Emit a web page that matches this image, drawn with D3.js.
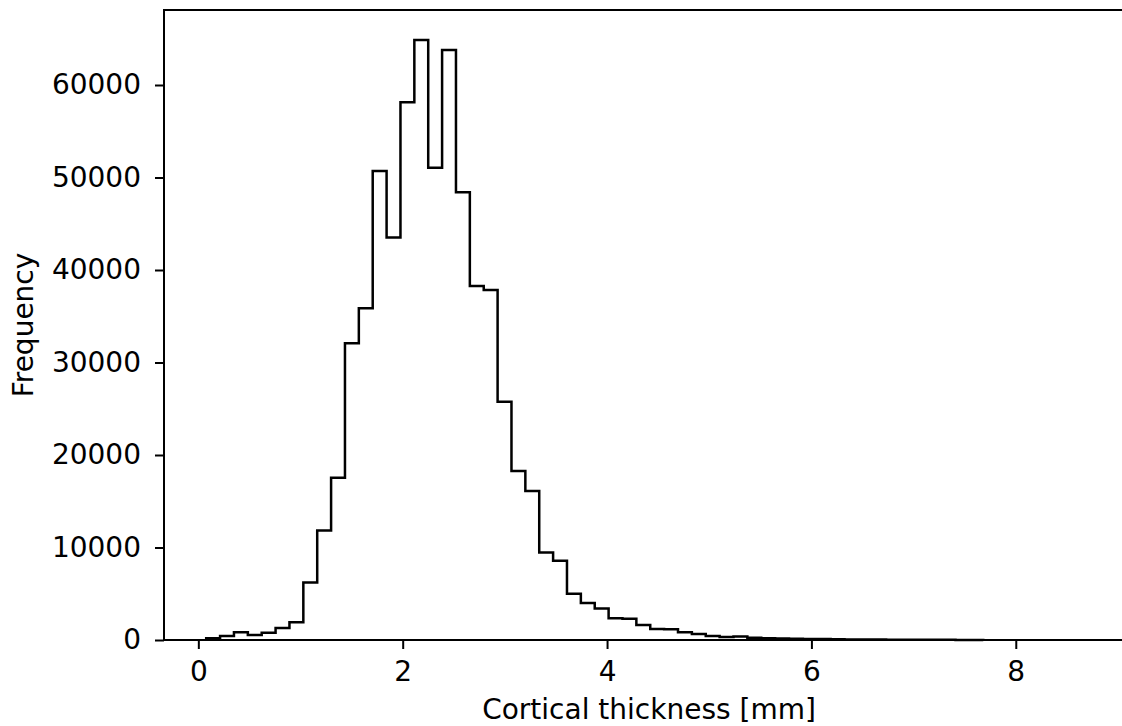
<!DOCTYPE html>
<html>
<head>
<meta charset="utf-8">
<script src="https://cdn.jsdelivr.net/npm/d3@7"></script>
<style>
  html, body { margin: 0; padding: 0; background: #fff; }
  svg { display: block; }
  text { font-family: "DejaVu Sans", sans-serif; fill: #000; }
</style>
</head>
<body>
<svg id="chart" width="1122" height="726"></svg>
<script>
// ---- data ----
const binStart = 0.077;
const binWidth = 0.1358;
const counts = [
  180, 430, 830, 540, 790, 1300, 1910, 6220, 11850, 17550,
  32070, 35860, 50700, 43500, 58130, 64870, 51060, 63780, 48400, 38270,
  37840, 25770, 18270, 16110, 9460, 8580, 5000, 4000, 3400, 2340,
  2300, 1620, 1180, 1150, 850, 650, 430, 320, 380, 230,
  190, 160, 130, 110, 95, 80, 65, 55, 45, 38,
  30, 25, 20, 15, 12, 8
];
const xTicks = [0, 2, 4, 6, 8];
const yTicks = [0, 10000, 20000, 30000, 40000, 50000, 60000];
const xLabel = "Cortical thickness [mm]";
const yLabel = "Frequency";

(function () {
  // ---- layout ----
  const mLeft = 164, mRight = 1134, mTop = 10, mBottom = 640;
  const fontSize = 28;

  const svg = d3.select("#chart");

  const x = d3.scaleLinear().domain([-0.336, 9.157]).range([mLeft, mRight]);
  const y = d3.scaleLinear().domain([0, 68108]).range([mBottom, mTop]);

  // histogram step outline (matplotlib histtype='step')
  const edges = counts.map((c, i) => binStart + i * binWidth)
    .concat([binStart + counts.length * binWidth]);
  const pts = [[edges[0], 0]];
  counts.forEach((c, i) => { pts.push([edges[i], c]); pts.push([edges[i + 1], c]); });
  pts.push([edges[edges.length - 1], 0]);

  const line = d3.line().x(d => x(d[0])).y(d => y(d[1]));

  svg.append("path")
    .attr("d", line(pts))
    .attr("fill", "none")
    .attr("stroke", "#000")
    .attr("stroke-width", 2.5)
    .attr("stroke-linejoin", "miter");

  // axes
  const xAxis = d3.axisBottom(x).tickValues(xTicks).tickFormat(d3.format("d")).tickSize(9).tickPadding(12);
  const yAxis = d3.axisLeft(y).tickValues(yTicks).tickFormat(d3.format("d")).tickSize(9).tickPadding(14);

  const gx = svg.append("g").attr("transform", `translate(0,${mBottom})`).call(xAxis);
  const gy = svg.append("g").attr("transform", `translate(${mLeft},0)`).call(yAxis);

  [gx, gy].forEach(g => {
    g.select(".domain").remove();
    g.selectAll(".tick line").attr("stroke", "#000").attr("stroke-width", 2);
    g.selectAll(".tick text")
      .attr("font-family", "DejaVu Sans, sans-serif")
      .attr("font-size", fontSize)
      .attr("fill", "#000");
  });

  // spines (box)
  svg.append("rect")
    .attr("x", mLeft).attr("y", mTop)
    .attr("width", mRight - mLeft).attr("height", mBottom - mTop)
    .attr("fill", "none").attr("stroke", "#000").attr("stroke-width", 2);

  // axis labels
  svg.append("text")
    .attr("x", (mLeft + mRight) / 2)
    .attr("y", 719)
    .attr("text-anchor", "middle")
    .attr("font-size", fontSize)
    .text(xLabel);

  svg.append("text")
    .attr("transform", `translate(33,${(mTop + mBottom) / 2}) rotate(-90)`)
    .attr("text-anchor", "middle")
    .attr("font-size", fontSize)
    .text(yLabel);
})();
</script>
</body>
</html>
